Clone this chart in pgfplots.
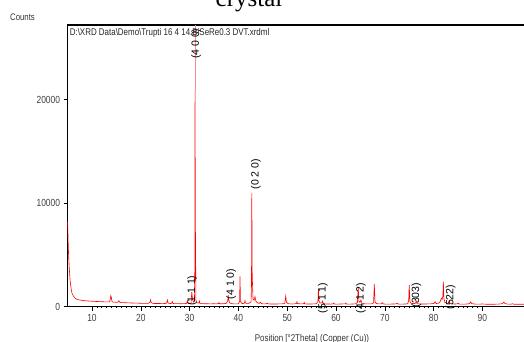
\documentclass[border=0pt]{standalone}
\usepackage{fontspec}
\setmainfont{Liberation Sans}
\newfontfamily\narrow[FakeStretch=0.82]{Liberation Sans}
\newfontfamily\seriffont{Liberation Serif}
\usepackage{pgfplots}
\pgfplotsset{compat=1.18}
\begin{document}
\begin{tikzpicture}
\begin{axis}[
  scale only axis, width=463.6pt, height=281.5pt,
  at={(67.6pt,35.5pt)}, anchor=south west,
  xmin=5, xmax=100, ymin=0, ymax=27200,
  axis line style={line width=1.1pt, black},
  xtick={10,20,...,90}, minor x tick num=9,
  ytick={0,10000,20000},
  tick align=outside, xtick pos=bottom, ytick pos=left,
  major tick length=4pt, minor tick length=2pt,
  tick style={black, line width=0.6pt},
  tick label style={font=\narrow\fontsize{10.3}{10.3}\selectfont, text=black!75},
  /pgf/number format/assume math mode=true,
  scaled ticks=false,
  yticklabel style={/pgf/number format/set thousands separator={}},
  clip=false,
]
\addplot[red, line width=0.6pt] coordinates {
(5.0,8200)(5.05,7400)(5.1,6500)(5.2,5000)(5.3,4000)(5.4,3300)(5.5,2600)(5.6,2150)(5.7,1800)(5.8,1500)(5.9,1300)(6.0,1180)(6.2,1000)(6.4,870)(6.6,790)(6.8,720)(7.0,680)(7.3,640)(7.6,625)(8.0,585)(8.4,560)(8.8,550)(9.2,530)(9.6,525)(10.0,510)(10.4,500)(10.8,485)(11.2,480)(11.6,470)(12.0,460)(12.4,455)(12.8,445)(13.2,440)(13.6,450)(13.75,700)(13.85,1050)(13.95,900)(14.1,480)(14.3,430)(14.6,420)(15.0,400)(15.3,420)(15.5,560)(15.7,410)(16.0,380)(16.5,370)(17.0,360)(17.5,350)(18.0,340)(18.5,335)(19.0,325)(19.5,320)(20.0,310)(20.5,305)(21.0,300)(21.5,300)(21.9,420)(22.0,650)(22.1,420)(22.4,300)(23.0,290)(23.5,285)(24.0,285)(24.5,280)(25.0,290)(25.3,340)(25.45,620)(25.6,330)(26.0,290)(26.3,300)(26.45,480)(26.6,290)(27.0,280)(27.5,275)(28.0,270)(28.5,270)(29.0,275)(29.4,300)(29.55,560)(29.7,290)(30.0,280)(30.3,340)(30.45,1400)(30.6,700)(30.8,420)(31.0,500)(31.07,3500)(31.12,20900)(31.17,9000)(31.3,600)(31.5,350)(31.9,330)(32.0,520)(32.1,320)(32.5,280)(33.0,270)(33.5,265)(34.0,260)(34.5,260)(35.0,265)(35.5,255)(35.9,280)(36.0,380)(36.1,270)(36.5,260)(37.0,270)(37.5,300)(37.8,500)(37.9,1100)(38.0,700)(38.2,350)(38.6,280)(39.0,260)(39.5,250)(40.0,260)(40.25,500)(40.33,2900)(40.42,500)(40.7,300)(41.0,280)(41.25,350)(41.35,560)(41.45,330)(41.8,300)(42.2,320)(42.6,450)(42.68,2000)(42.75,11000)(42.83,3000)(43.0,700)(43.2,600)(43.4,950)(43.6,500)(43.9,360)(44.3,300)(44.5,420)(44.7,290)(45.0,260)(45.5,255)(46.0,300)(46.1,250)(46.5,245)(47.0,240)(47.5,240)(48.0,245)(48.5,250)(49.0,260)(49.5,300)(49.7,1000)(49.85,400)(50.2,270)(50.6,250)(51.0,245)(51.5,250)(51.9,300)(52.0,460)(52.1,280)(52.6,260)(53.0,250)(53.4,280)(53.5,380)(53.6,260)(54.0,240)(54.5,240)(55.0,245)(55.5,250)(56.0,270)(56.3,500)(56.4,1700)(56.5,600)(56.7,330)(57.1,350)(57.25,520)(57.4,300)(57.8,250)(58.3,240)(59.0,235)(59.4,260)(59.5,330)(59.6,250)(60.0,230)(60.5,235)(61.0,240)(61.9,260)(62.0,330)(62.1,240)(62.6,230)(63.0,235)(63.5,240)(64.0,260)(64.4,400)(64.55,1900)(64.7,500)(64.9,400)(65.1,620)(65.3,330)(65.7,270)(66.2,250)(66.7,250)(67.3,260)(67.7,350)(67.85,2150)(68.0,420)(68.3,280)(68.8,250)(69.3,260)(69.5,370)(69.7,250)(70.2,230)(70.7,230)(71.2,235)(71.7,240)(72.3,250)(72.5,320)(72.7,240)(73.2,230)(73.7,235)(74.2,240)(74.7,270)(74.9,600)(75.0,2100)(75.15,500)(75.4,300)(76.0,280)(76.3,330)(76.45,520)(76.6,280)(77.0,250)(77.5,240)(78.0,240)(78.5,245)(79.0,250)(79.5,260)(80.1,300)(80.3,460)(80.5,290)(80.9,300)(81.3,420)(81.6,800)(81.75,700)(81.9,1000)(82.0,2400)(82.1,800)(82.3,400)(82.6,330)(83.0,320)(83.2,520)(83.4,300)(83.8,260)(84.3,240)(84.8,250)(85.0,320)(85.2,240)(85.7,230)(86.2,230)(86.8,240)(87.4,280)(87.6,440)(87.8,290)(88.3,240)(89.0,230)(89.6,225)(90.0,260)(90.2,225)(91.0,220)(91.8,220)(92.5,220)(93.2,230)(93.9,260)(94.2,320)(94.4,420)(94.6,300)(95.0,240)(95.8,220)(96.2,270)(96.4,220)(97.0,215)(98.0,215)(99.0,210)(100,210)
};
\addplot[red!45, line width=0.5pt] coordinates {(31.12,20900)(31.12,27200)};
% peak labels
\begin{scope}
\clip (rel axis cs:0,-0.2) rectangle (rel axis cs:1,1);
\node[rotate=90, anchor=west, inner sep=0pt, font=\fontsize{10.5}{10.5}\selectfont] at (axis cs:31.35,23900) {(4 0 0)};
\end{scope}
\node[rotate=90, anchor=west, inner sep=0pt, font=\fontsize{10.5}{10.5}\selectfont] at (axis cs:30.5,30) {(1 1 1)};
\node[rotate=90, anchor=west, inner sep=0pt, font=\fontsize{10.5}{10.5}\selectfont] at (axis cs:38.5,700) {(4 1 0)};
\node[rotate=90, anchor=west, inner sep=0pt, font=\fontsize{10.5}{10.5}\selectfont] at (axis cs:43.6,11300) {(0 2 0)};
\node[rotate=90, anchor=west, inner sep=0pt, font=\fontsize{10.5}{10.5}\selectfont] at (axis cs:57.3,-650) {(5 1 1)};
\node[rotate=90, anchor=west, inner sep=0pt, font=\fontsize{10.5}{10.5}\selectfont] at (axis cs:65.1,-650) {(4 1 2)};
\node[rotate=90, anchor=west, inner sep=0pt, font=\fontsize{10.5}{10.5}\selectfont] at (axis cs:76.5,-100) {(303)};
\node[rotate=90, anchor=west, inner sep=0pt, font=\fontsize{10.5}{10.5}\selectfont] at (axis cs:83.5,-300) {(522)};
\node[anchor=north west, inner sep=0pt, text=black!85, font=\narrow\fontsize{9.7}{9.7}\selectfont] at ([xshift=2pt,yshift=-3pt]rel axis cs:0,1) {D:\textbackslash XRD Data\textbackslash Demo\textbackslash Trupti 16 4 14.BiSeRe0.3 DVT.xrdml};
\end{axis}
\node[anchor=base, font=\seriffont\fontsize{25}{25}\selectfont] at (249pt,335pt) {crystal};
\node[font=\narrow\fontsize{9.5}{9.5}\selectfont, text=black!80] at (22.5pt,324.5pt) {Counts};
\node[font=\narrow\fontsize{9.7}{9.7}\selectfont, text=black!80] at (312pt,3.5pt) {Position [°2Theta] (Copper (Cu))};
\pgfresetboundingbox
\useasboundingbox (0,0) rectangle (524pt,342pt);
\end{tikzpicture}
\end{document}
